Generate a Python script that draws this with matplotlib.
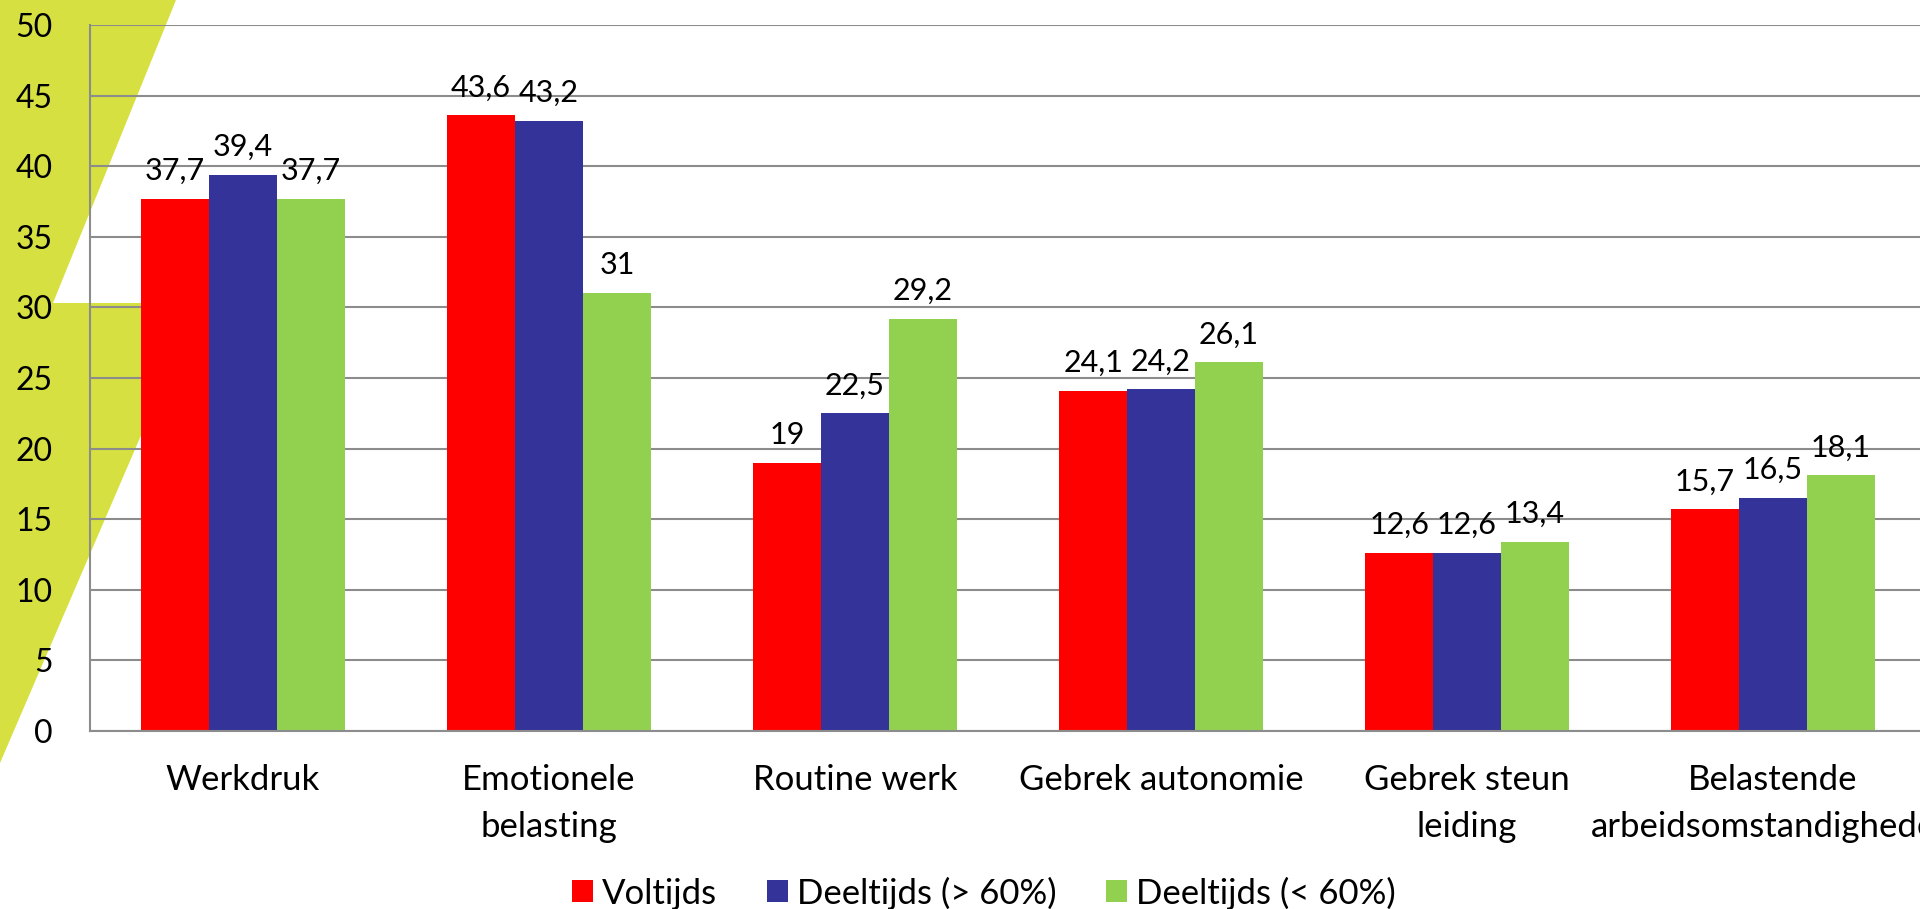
import matplotlib
matplotlib.use("Agg")
import matplotlib.pyplot as plt
from matplotlib.patches import Polygon, Patch
import numpy as np

plt.rcParams['font.family'] = ['Lato', 'DejaVu Sans']

# data
categories = ["Werkdruk", "Emotionele\nbelasting", "Routine werk", "Gebrek autonomie",
              "Gebrek steun\nleiding", "Belastende\narbeidsomstandigheden"]
series_names = ["Voltijds", "Deeltijds (> 60%)", "Deeltijds (< 60%)"]
voltijds = [37.7, 43.6, 19, 24.1, 12.6, 15.7]
deeltijds_hoog = [39.4, 43.2, 22.5, 24.2, 12.6, 16.5]
deeltijds_laag = [37.7, 31, 29.2, 26.1, 13.4, 18.1]
colors = ["#FF0000", "#333399", "#92D050"]

W, H = 1920, 909
fig = plt.figure(figsize=(W / 100, H / 100), dpi=100)

# decorative lime shape behind the chart (pixel coords, top-left origin)
shape_px = [(0, 0), (176, 0), (53, 303), (198, 303), (0, 763)]
shape = Polygon([(x / W, 1 - y / H) for x, y in shape_px], closed=True,
                transform=fig.transFigure, facecolor="#D6E040", edgecolor="none", zorder=-1)
fig.patches.append(shape)

ax = fig.add_axes([90 / W, 178 / H, 1836 / W, 706 / H])
ax.set_facecolor("none")

x = np.arange(len(categories))
bw = 0.222
grey = "#8C8C8C"
for i, (vals, name, c) in enumerate(zip([voltijds, deeltijds_hoog, deeltijds_laag], series_names, colors)):
    bars = ax.bar(x + (i - 1) * bw, vals, width=bw, color=c, label=name, zorder=2)
    ax.bar_label(bars, labels=[f"{v:g}".replace(".", ",") for v in vals],
                 padding=10, fontsize=22, color="black")

ax.set_xlim(-0.5, len(categories) - 0.5)
ax.set_ylim(0, 50)
ax.set_yticks(range(0, 51, 5))
ax.yaxis.grid(True, color=grey, lw=1.5)
ax.set_axisbelow(True)
for s in ["top", "right"]:
    ax.spines[s].set_visible(False)
for s in ["left", "bottom"]:
    ax.spines[s].set_color(grey)
    ax.spines[s].set_linewidth(1.5)
    ax.spines[s].set_zorder(3)

ax.set_xticks(x)
ax.set_xticklabels(categories, fontsize=25, linespacing=1.55)
ax.tick_params(axis="x", length=0, pad=24)
ax.tick_params(axis="y", length=0, pad=27, labelsize=23)

handles = [Patch(facecolor=c, edgecolor="none") for c in colors]
fig.legend(handles, series_names, loc="center", bbox_to_anchor=(984 / W, 1 - 893 / H),
           ncol=3, frameon=False, fontsize=25, handlelength=0.6, handleheight=0.6,
           handletextpad=0.26, columnspacing=1.44, borderpad=0)

fig.savefig("out.png", dpi=100)
